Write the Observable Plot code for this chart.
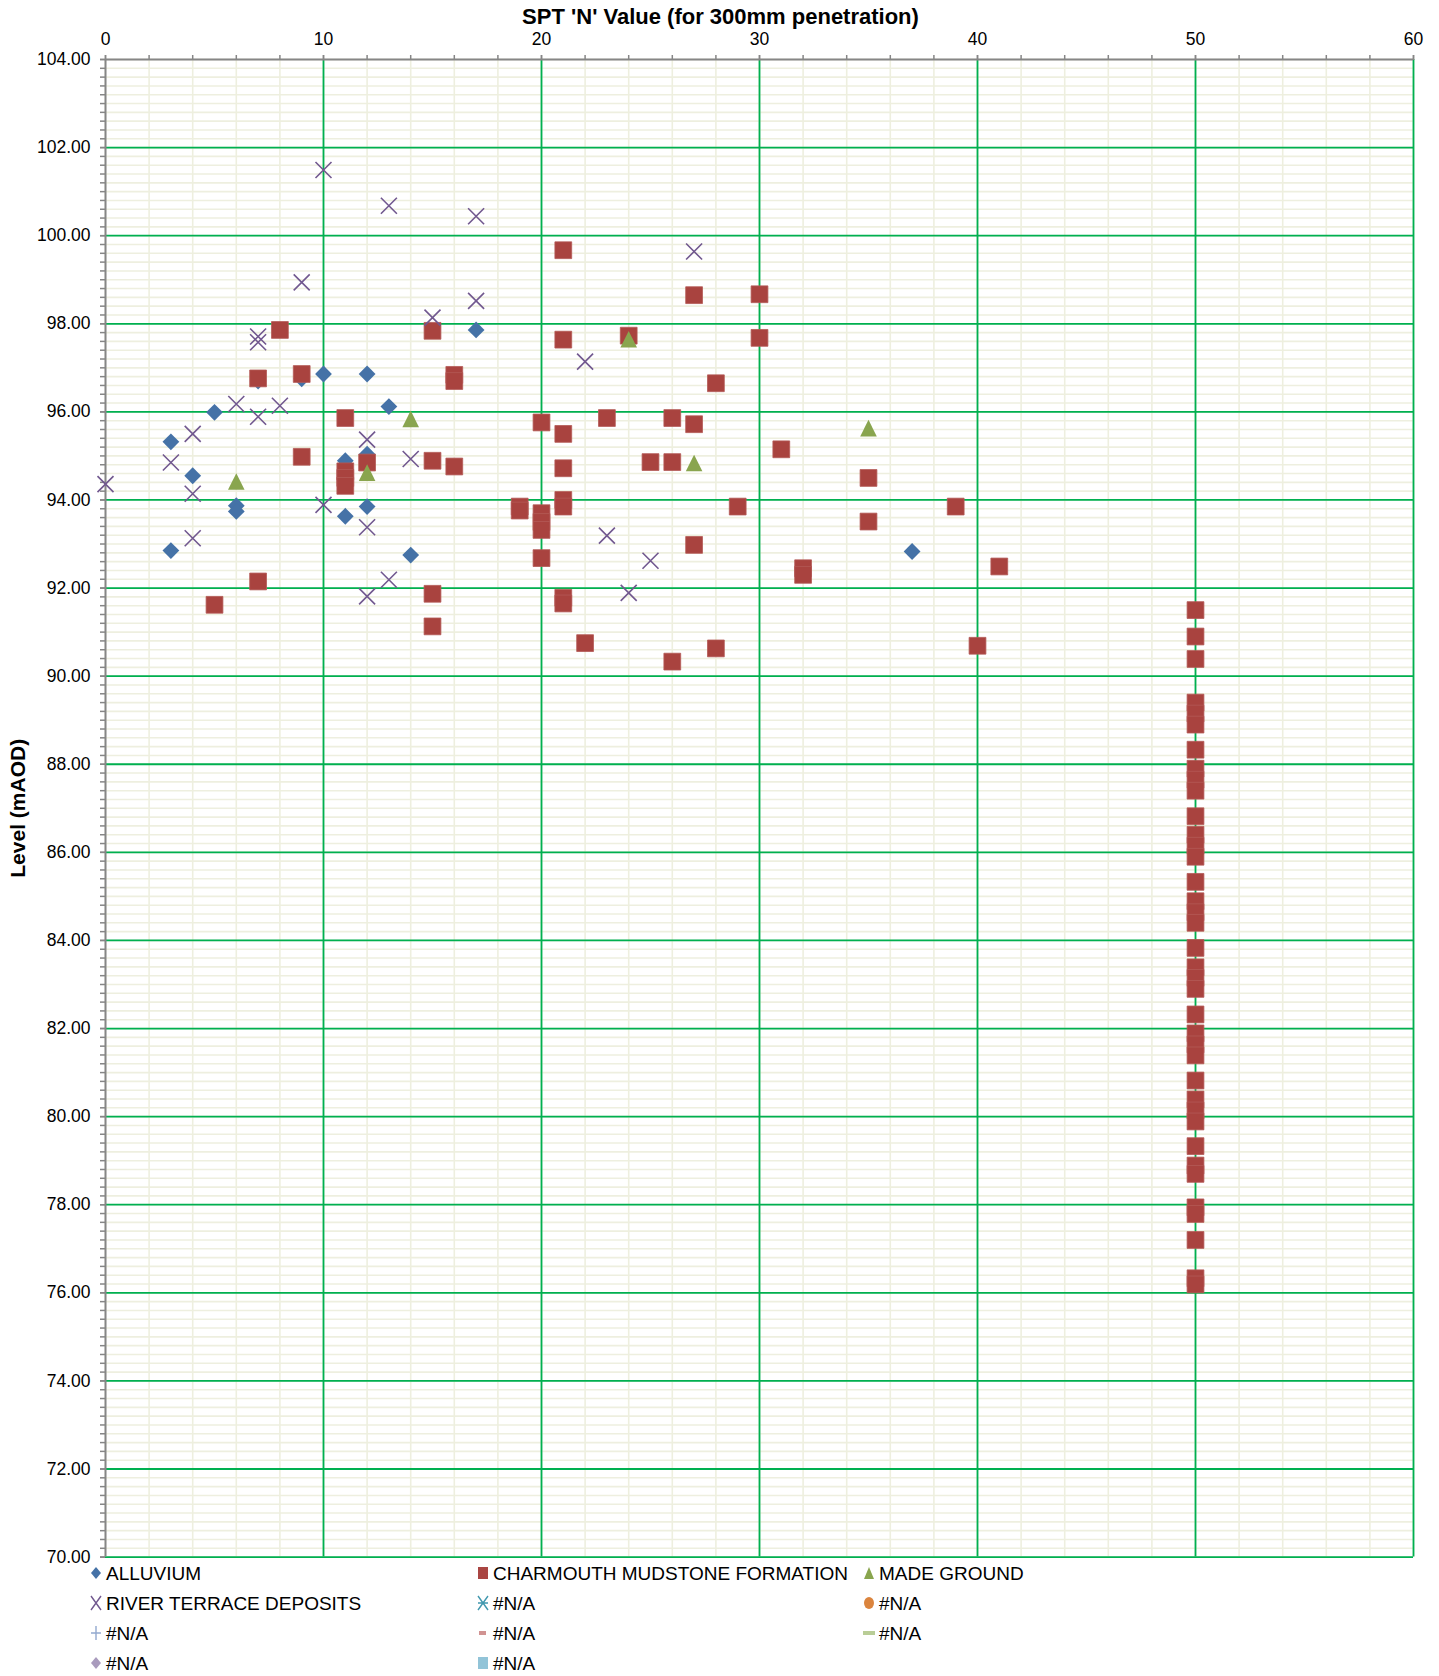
<!DOCTYPE html>
<html>
<head>
<meta charset="utf-8">
<script src="https://cdn.jsdelivr.net/npm/d3@7"></script>
<script src="https://cdn.jsdelivr.net/npm/@observablehq/plot@0.6"></script>
<style>
  html, body { margin: 0; padding: 0; background: #fff; }
  #chart svg { display: block; }
  #legend { position: relative; width: 1439px; height: 115px; font-family: "Liberation Sans", Arial, sans-serif; font-size: 19px; color: #000; }
  .li { position: absolute; display: flex; align-items: center; white-space: nowrap; line-height: 1; }
  .li svg { display: block; margin-right: 3px; }
</style>
</head>
<body>
<div id="chart"></div>
<div id="legend"></div>
<script>
// ---- Data (SPT N value, level mAOD) ----
const alluvium = [
  [3,95.32],[3,92.85],[4,94.55],[5,95.99],[6,93.87],[6,93.74],[7,96.7],[9,96.75],
  [10,96.86],[11,94.89],[11,93.63],[12,96.86],[12,95.04],[12,93.85],[13,96.12],
  [14,92.75],[17,97.86],[37,92.83]
];
const charmouth = [
  [8,97.86],[7,96.76],[9,96.86],[15,97.84],[16,96.84],[16,96.7],[11,95.86],[9,94.98],
  [11,94.65],[11,94.5],[11,94.32],[12,94.85],[15,94.89],[16,94.76],[19,93.85],[19,93.76],
  [7,92.15],[5,91.62],[15,91.87],[15,91.13],[21,99.67],[27,98.65],[30,98.67],[21,97.64],
  [24,97.73],[30,97.68],[28,96.65],[20,95.76],[21,95.5],[23,95.86],[26,95.86],[27,95.72],
  [31,95.15],[25,94.86],[26,94.86],[21,94.72],[35,94.5],[21,94.0],[21,93.85],[20,93.7],
  [20,93.5],[20,93.32],[29,93.85],[35,93.51],[39,93.85],[27,92.98],[20,92.68],[32,92.45],
  [32,92.3],[41,92.49],[21,91.78],[21,91.65],[22,90.75],[26,90.33],[28,90.63],[40,90.69],
  [50,91.5],[50,90.9],[50,90.39],[50,89.4],[50,89.15],[50,88.9],[50,88.33],[50,87.9],
  [50,87.65],[50,87.4],[50,86.82],[50,86.4],[50,86.15],[50,85.9],[50,85.33],[50,84.89],
  [50,84.64],[50,84.4],[50,83.83],[50,83.39],[50,83.15],[50,82.9],[50,82.32],[50,81.89],
  [50,81.64],[50,81.39],[50,80.82],[50,80.39],[50,80.14],[50,79.89],[50,79.33],[50,78.89],
  [50,78.7],[50,77.94],[50,77.79],[50,77.2],[50,76.33],[50,76.19]
];
const madeGround = [
  [14,95.84],[6,94.42],[12,94.62],[24,97.65],[35,95.63],[27,94.84]
];
const riverTerrace = [
  [10,101.49],[13,100.68],[17,100.44],[9,98.94],[17,98.52],[15,98.14],[7,97.71],[7,97.58],
  [6,96.18],[7,95.89],[8,96.14],[4,95.5],[12,95.37],[3,94.85],[0,94.36],[4,94.14],
  [4,93.13],[10,93.89],[14,94.93],[12,93.38],[13,92.19],[12,91.81],[27,99.64],[22,97.14],
  [23,93.19],[25,92.62],[24,91.89]
];

// ---- Axis ticks ----
const xMajorTicks = [0, 10, 20, 30, 40, 50, 60];
const xMinorTicks = d3.range(0, 60.001, 2);
const yMajorTicks = d3.range(70, 104.001, 2);
const yMinorTicks = d3.range(70, 104.001, 0.2).map(v => +v.toFixed(1));

const xTitle = "SPT 'N' Value (for 300mm penetration)";
const yTitle = "Level (mAOD)";

const legendItems = [
  {label: "ALLUVIUM", sym: "diamond", color: "#4572A7", col: 0, row: 0},
  {label: "CHARMOUTH MUDSTONE FORMATION", sym: "square", color: "#AA4643", col: 1, row: 0},
  {label: "MADE GROUND", sym: "triangle", color: "#89A54E", col: 2, row: 0},
  {label: "RIVER TERRACE DEPOSITS", sym: "x", color: "#71588F", col: 0, row: 1},
  {label: "#N/A", sym: "star", color: "#4198AF", col: 1, row: 1},
  {label: "#N/A", sym: "circle", color: "#DB843D", col: 2, row: 1},
  {label: "#N/A", sym: "plus", color: "#93A9CF", col: 0, row: 2},
  {label: "#N/A", sym: "dash", color: "#D19392", col: 1, row: 2},
  {label: "#N/A", sym: "longdash", color: "#B9CD96", col: 2, row: 2},
  {label: "#N/A", sym: "diamond", color: "#A99BBD", col: 0, row: 3},
  {label: "#N/A", sym: "square", color: "#92C4D8", col: 1, row: 3}
];

// ---- Custom Excel-like marker symbols (h = r) ----
const sqSym = {draw(c, s) { const h = Math.sqrt(s / Math.PI); c.rect(-h, -h, 2 * h, 2 * h); }};
const diaSym = {draw(c, s) { const h = Math.sqrt(s / Math.PI); c.moveTo(0, -h); c.lineTo(h, 0); c.lineTo(0, h); c.lineTo(-h, 0); c.closePath(); }};
const triSym = {draw(c, s) { const h = Math.sqrt(s / Math.PI); c.moveTo(0, -h); c.lineTo(h, h); c.lineTo(-h, h); c.closePath(); }};
const xSym = {draw(c, s) { const h = Math.sqrt(s / Math.PI); c.moveTo(-h, -h); c.lineTo(h, h); c.moveTo(h, -h); c.lineTo(-h, h); }};

const green = "#00B050";
const minor = "#eeefdf";
const axisGrey = "#868686";

const chart = Plot.plot({
  width: 1439,
  height: 1561,
  marginLeft: 105,
  marginRight: 26,
  marginTop: 59,
  marginBottom: 4.4,
  x: {domain: [0, 60], axis: null},
  y: {domain: [70, 104], axis: null},
  style: {fontFamily: "'Liberation Sans', Arial, sans-serif", fontSize: "17px", color: "#000", background: "#fff", overflow: "visible"},
  marks: [
    Plot.ruleX(xMinorTicks, {stroke: minor, strokeWidth: 1.6}),
    Plot.ruleY(yMinorTicks, {stroke: minor, strokeWidth: 1.6}),
    Plot.ruleX(xMajorTicks.filter(v => v > 0), {stroke: green, strokeWidth: 1.8}),
    Plot.ruleY(yMajorTicks.filter(v => v < 104), {stroke: green, strokeWidth: 1.8}),
    Plot.ruleX([0], {stroke: axisGrey, strokeWidth: 2}),
    Plot.ruleY([104], {stroke: axisGrey, strokeWidth: 2}),
    Plot.axisX({anchor: "top", ticks: xMinorTicks, tickSize: 5, tickFormat: () => "", stroke: axisGrey, strokeWidth: 1.5, label: null}),
    Plot.axisX({anchor: "top", ticks: xMajorTicks, tickSize: 5, tickPadding: 10, stroke: axisGrey, strokeWidth: 1.5, label: null, fontSize: 17.5}),
    Plot.axisY({anchor: "left", ticks: yMinorTicks, tickSize: 5, tickFormat: () => "", stroke: axisGrey, strokeWidth: 1.5, label: null}),
    Plot.axisY({anchor: "left", ticks: yMajorTicks, tickSize: 5, tickPadding: 10, tickFormat: d3.format(".2f"), stroke: axisGrey, strokeWidth: 1.5, label: null, fontSize: 17.5}),
    Plot.dot(alluvium, {x: d => d[0], y: d => d[1], symbol: diaSym, r: 8.4, fill: "#4572A7", stroke: "none"}),
    Plot.dot(charmouth, {x: d => d[0], y: d => d[1], symbol: sqSym, r: 8.4, fill: "#A9433F", stroke: "#b45a57", strokeWidth: 0.8}),
    Plot.dot(madeGround, {x: d => d[0], y: d => d[1], symbol: triSym, r: 8.3, fill: "#89A54E", stroke: "none"}),
    Plot.dot(riverTerrace, {x: d => d[0], y: d => d[1], symbol: xSym, r: 8, fill: "none", stroke: "#71588F", strokeWidth: 1.6}),
    Plot.text([xTitle], {text: d => d, frameAnchor: "top", textAnchor: "middle", dx: -39, dy: -43, fontWeight: "bold", fontSize: 22, lineAnchor: "middle"}),
    Plot.text([yTitle], {text: d => d, frameAnchor: "left", textAnchor: "middle", rotate: -90, dx: -87, fontWeight: "bold", fontSize: 21, lineAnchor: "middle"})
  ]
});
document.getElementById("chart").appendChild(chart);

// ---- Legend ----
const colX = [89, 476, 862];
const rowY = [12, 42, 72, 102];
const leg = document.getElementById("legend");
function symSvg(sym, color) {
  const s = d3.create("svg").attr("width", 14).attr("height", 18);
  const g = s.append("g").attr("transform", "translate(7,9)");
  if (sym === "diamond") g.append("path").attr("d", "M0,-6L5,0L0,6L-5,0Z").attr("fill", color);
  else if (sym === "square") g.append("rect").attr("x", -5).attr("y", -6).attr("width", 10).attr("height", 12).attr("fill", color);
  else if (sym === "triangle") g.append("path").attr("d", "M0,-6L5,6L-5,6Z").attr("fill", color);
  else if (sym === "x") g.append("path").attr("d", "M-5,-7L5,7M5,-7L-5,7").attr("stroke", color).attr("stroke-width", 1.4).attr("fill", "none");
  else if (sym === "star") g.append("path").attr("d", "M-5,-7L5,7M5,-7L-5,7M-5,0L5,0").attr("stroke", color).attr("stroke-width", 1.4).attr("fill", "none");
  else if (sym === "circle") g.append("ellipse").attr("rx", 5).attr("ry", 6).attr("fill", color);
  else if (sym === "plus") g.append("path").attr("d", "M-5,0L5,0M0,-7L0,7").attr("stroke", color).attr("stroke-width", 1.4).attr("fill", "none");
  else if (sym === "dash") g.append("rect").attr("x", -4).attr("y", -2).attr("width", 7).attr("height", 4).attr("fill", color);
  else if (sym === "longdash") g.append("rect").attr("x", -6).attr("y", -2).attr("width", 12).attr("height", 4).attr("fill", color);
  return s.node();
}
legendItems.forEach(it => {
  const d = document.createElement("div");
  d.className = "li";
  d.style.left = colX[it.col] + "px";
  d.style.top = (rowY[it.row] - 10) + "px";
  d.style.height = "20px";
  d.appendChild(symSvg(it.sym, it.color));
  const t = document.createElement("span");
  t.textContent = it.label;
  d.appendChild(t);
  leg.appendChild(d);
});
</script>
</body>
</html>
